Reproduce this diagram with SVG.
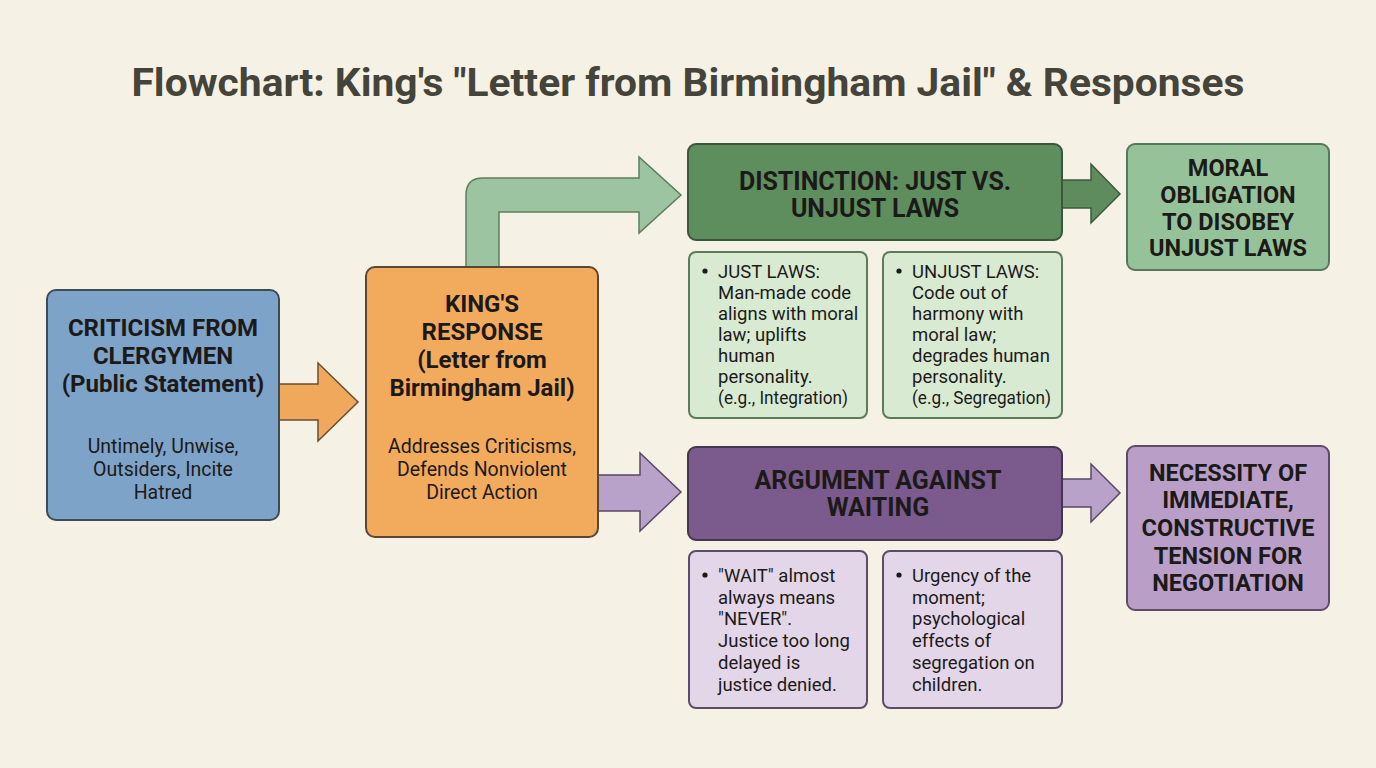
<svg xmlns="http://www.w3.org/2000/svg" width="1376" height="768" viewBox="0 0 1376 768">
<defs>
<style>
.t{font-family:Roboto,"Liberation Sans",sans-serif;fill:#1c1a18;text-anchor:middle}
.h{font-weight:bold}
.title{font-family:Roboto,"Liberation Sans",sans-serif;font-weight:bold;font-size:38px;fill:#45443a;text-anchor:middle}
.s{font-family:Roboto,"Liberation Sans",sans-serif;fill:#1c1a18;font-size:18.5px}
.box{stroke-width:2}
</style>
</defs>
<rect width="1376" height="768" fill="#f5f1e4"/>
<text class="title" x="688" y="96" textLength="1113" lengthAdjust="spacingAndGlyphs">Flowchart: King's "Letter from Birmingham Jail" &amp; Responses</text>

<g id="connectors">
<path d="M279,384 H318 V363 L358,402 L318,441 V420 H279 Z" fill="#f0a95c" stroke="#6b4e2f" stroke-width="1.5"/>
<path d="M466,267 V195 Q466,178 483,178 H639 V157 L681,195 L639,233 V212 H499 V267 Z" fill="#9dc4a0" stroke="#5c7d5e" stroke-width="1.5"/>
<path d="M598,475 H640 V453 L681,492 L640,531 V511 H598 Z" fill="#b9a2c9" stroke="#5a4866" stroke-width="1.5"/>
<path d="M1062,180 H1091 V164 L1120,194 L1091,223 V208 H1062 Z" fill="#5f8c5f" stroke="#3b5a3b" stroke-width="1.5"/>
<path d="M1062,479 H1091 V464 L1120,493 L1091,522 V507 H1062 Z" fill="#b9a2c9" stroke="#5a4866" stroke-width="1.5"/>
</g>

<g id="criticism">
<rect class="box" x="47" y="290" width="232" height="230" rx="9" fill="#7ea3c8" stroke="#3d4b58"/>
<text class="t h" font-size="24"><tspan x="163" y="336">CRITICISM FROM</tspan><tspan x="163" y="364">CLERGYMEN</tspan><tspan x="163" y="392">(Public Statement)</tspan></text>
<text class="t" font-size="19.5"><tspan x="163" y="453">Untimely, Unwise,</tspan><tspan x="163" y="476">Outsiders, Incite</tspan><tspan x="163" y="499">Hatred</tspan></text>
</g>

<g id="kings-response">
<rect class="box" x="366" y="267" width="232" height="270" rx="9" fill="#f2aa5d" stroke="#5a4634"/>
<text class="t h" font-size="24"><tspan x="482" y="312">KING'S</tspan><tspan x="482" y="340">RESPONSE</tspan><tspan x="482" y="368">(Letter from</tspan><tspan x="482" y="396">Birmingham Jail)</tspan></text>
<text class="t" font-size="19.5"><tspan x="482" y="453">Addresses Criticisms,</tspan><tspan x="482" y="476">Defends Nonviolent</tspan><tspan x="482" y="499">Direct Action</tspan></text>
</g>

<g id="distinction">
<rect class="box" x="688" y="144" width="374" height="96" rx="8" fill="#5e8d5e" stroke="#3a573a"/>
<text class="t h" font-size="25"><tspan x="875" y="190">DISTINCTION: JUST VS.</tspan><tspan x="875" y="217">UNJUST LAWS</tspan></text>
</g>

<g id="just-laws">
<rect class="box" x="689" y="252" width="178" height="166" rx="7" fill="#d9ead3" stroke="#5c7a5c"/>
<circle cx="705" cy="271" r="2.6" fill="#1c1a18"/>
<text class="s"><tspan x="718" y="278">JUST LAWS:</tspan><tspan x="718" y="299">Man-made code</tspan><tspan x="718" y="320">aligns with moral</tspan><tspan x="718" y="341">law; uplifts</tspan><tspan x="718" y="362">human</tspan><tspan x="718" y="383">personality.</tspan></text>
<text class="s" x="718" y="404" textLength="130" lengthAdjust="spacingAndGlyphs">(e.g., Integration)</text>
</g>

<g id="unjust-laws">
<rect class="box" x="883" y="252" width="179" height="166" rx="7" fill="#d9ead3" stroke="#5c7a5c"/>
<circle cx="899" cy="271" r="2.6" fill="#1c1a18"/>
<text class="s"><tspan x="912" y="278">UNJUST LAWS:</tspan><tspan x="912" y="299">Code out of</tspan><tspan x="912" y="320">harmony with</tspan><tspan x="912" y="341">moral law;</tspan><tspan x="912" y="362">degrades human</tspan><tspan x="912" y="383">personality.</tspan></text>
<text class="s" x="912" y="404" textLength="139" lengthAdjust="spacingAndGlyphs">(e.g., Segregation)</text>
</g>

<g id="moral-obligation">
<rect class="box" x="1127" y="144" width="202" height="126" rx="8" fill="#96c29a" stroke="#55775a"/>
<text class="t h" font-size="23.5"><tspan x="1228" y="176">MORAL</tspan><tspan x="1228" y="203">OBLIGATION</tspan><tspan x="1228" y="230">TO DISOBEY</tspan><tspan x="1228" y="256">UNJUST LAWS</tspan></text>
</g>

<g id="waiting">
<rect class="box" x="688" y="447" width="374" height="93" rx="8" fill="#7b5a8d" stroke="#45354f"/>
<text class="t h" font-size="25"><tspan x="878" y="489">ARGUMENT AGAINST</tspan><tspan x="878" y="516">WAITING</tspan></text>
</g>

<g id="wait-never">
<rect class="box" x="689" y="551" width="178" height="157" rx="7" fill="#e3d6e9" stroke="#5d4c68"/>
<circle cx="705" cy="575" r="2.6" fill="#1c1a18"/>
<text class="s"><tspan x="718" y="582">"WAIT" almost</tspan><tspan x="718" y="604">always means</tspan><tspan x="718" y="625">"NEVER".</tspan><tspan x="718" y="647">Justice too long</tspan><tspan x="718" y="669">delayed is</tspan><tspan x="718" y="691">justice denied.</tspan></text>
</g>

<g id="urgency">
<rect class="box" x="883" y="551" width="179" height="157" rx="7" fill="#e3d6e9" stroke="#5d4c68"/>
<circle cx="899" cy="575" r="2.6" fill="#1c1a18"/>
<text class="s"><tspan x="912" y="582">Urgency of the</tspan><tspan x="912" y="604">moment;</tspan><tspan x="912" y="625">psychological</tspan><tspan x="912" y="647">effects of</tspan><tspan x="912" y="669">segregation on</tspan><tspan x="912" y="691">children.</tspan></text>
</g>

<g id="necessity">
<rect class="box" x="1127" y="446" width="202" height="164" rx="8" fill="#b99fc7" stroke="#5d4c68"/>
<text class="t h" font-size="23.5"><tspan x="1228" y="481">NECESSITY OF</tspan><tspan x="1228" y="508">IMMEDIATE,</tspan><tspan x="1228" y="536">CONSTRUCTIVE</tspan><tspan x="1228" y="564">TENSION FOR</tspan><tspan x="1228" y="591">NEGOTIATION</tspan></text>
</g>
</svg>
